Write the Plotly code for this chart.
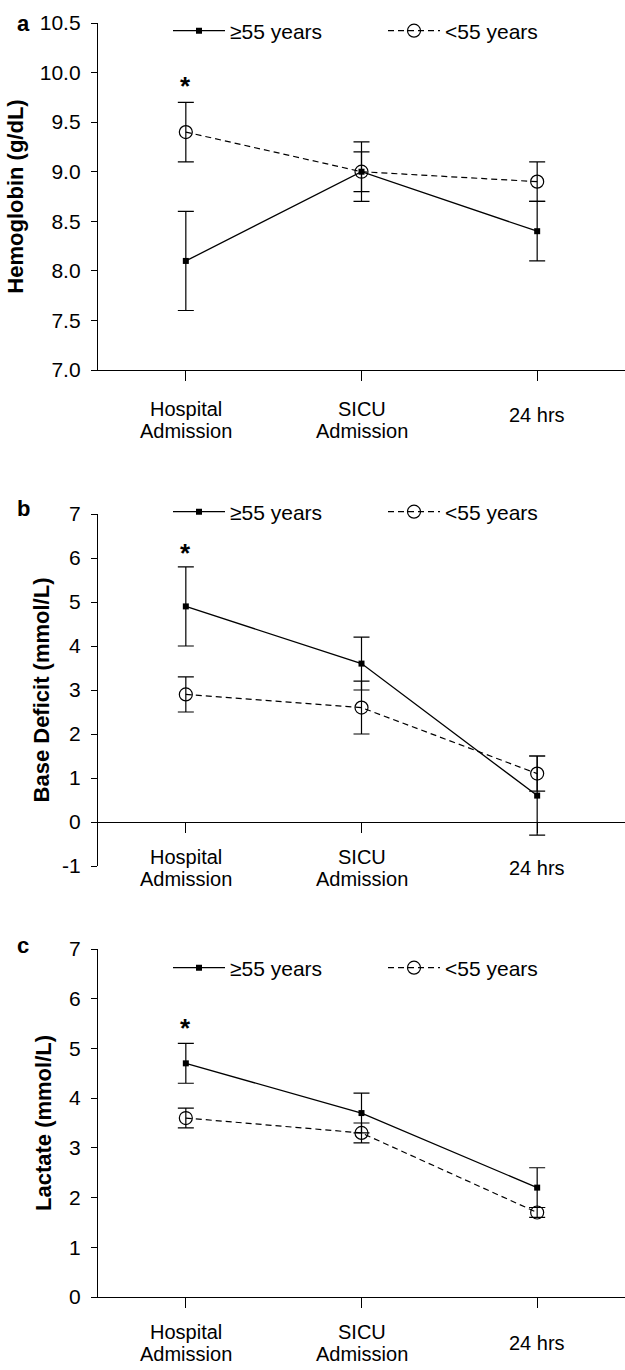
import plotly.graph_objects as go

# ---------------- data ----------------
categories = ["Hospital Admission", "SICU Admission", "24 hrs"]
cat_lines = [["Hospital", "Admission"], ["SICU", "Admission"], ["24 hrs"]]
series_names = ["\u226555 years", "<55 years"]

hgb_old = [8.1, 9.0, 8.4]
hgb_old_err = [0.5, 0.3, 0.3]
hgb_young = [9.4, 9.0, 8.9]
hgb_young_err = [0.3, 0.2, 0.2]

bd_old = [4.9, 3.6, 0.6]
bd_old_err = [0.9, 0.6, 0.9]
bd_young = [2.9, 2.6, 1.1]
bd_young_err = [0.4, 0.6, 0.4]

lac_old = [4.7, 3.7, 2.2]
lac_old_err = [0.4, 0.4, 0.4]
lac_young = [3.6, 3.3, 1.7]
lac_young_err = [0.2, 0.2, 0.1]

hgb_ticks = [7.0, 7.5, 8.0, 8.5, 9.0, 9.5, 10.0, 10.5]
hgb_tick_labels = ["7.0", "7.5", "8.0", "8.5", "9.0", "9.5", "10.0", "10.5"]
bd_ticks = [-1, 0, 1, 2, 3, 4, 5, 6, 7]
bd_tick_labels = ["-1", "0", "1", "2", "3", "4", "5", "6", "7"]
lac_ticks = [0, 1, 2, 3, 4, 5, 6, 7]
lac_tick_labels = ["0", "1", "2", "3", "4", "5", "6", "7"]

y_titles = ["Hemoglobin (g/dL)", "Base Deficit (mmol/L)", "Lactate (mmol/L)"]
panel_letters = ["a", "b", "c"]
star_y = [9.9, 6.2, 5.5]

# ---------------- layout geometry ----------------
W, H = 625, 1370
L, R, T, B = 98, 0, 23, 73
PH = H - T - B
PW = W - L - R


def py(px):
    return (H - B - px) / PH


def pxx(px):
    return (px - L) / PW


FONT = "Liberation Sans, Arial, sans-serif"

panels = [
    dict(old=hgb_old, olde=hgb_old_err, yng=hgb_young, ynge=hgb_young_err,
         yrange=[7.0, 10.5], tv=hgb_ticks, tt=hgb_tick_labels, dom=(370, 23),
         base=7.0, leg_y=31, letter_y=24, standoff=10, lab=(39, 61, 45)),
    dict(old=bd_old, olde=bd_old_err, yng=bd_young, ynge=bd_young_err,
         yrange=[-1, 7], tv=bd_ticks, tt=bd_tick_labels, dom=(866, 514),
         base=0, leg_y=512, letter_y=508, standoff=6, lab=(35, 57, 46)),
    dict(old=lac_old, olde=lac_old_err, yng=lac_young, ynge=lac_young_err,
         yrange=[0, 7], tv=lac_ticks, tt=lac_tick_labels, dom=(1297, 949),
         base=0, leg_y=968, letter_y=945, standoff=11, lab=(35, 57, 46)),
]

fig = go.Figure()
annotations = []

for i, p in enumerate(panels):
    n = "" if i == 0 else str(i + 1)
    xa, ya = "x" + n, "y" + n
    leg = "legend" + n
    fig.add_trace(go.Scatter(
        x=categories, y=p["old"], name=series_names[0], xaxis=xa, yaxis=ya,
        legend=leg, mode="lines+markers",
        line=dict(color="black", width=1.3),
        marker=dict(symbol="square", size=6, color="black"),
        error_y=dict(type="data", array=p["olde"], color="black",
                     thickness=1.2, width=8),
    ))
    fig.add_trace(go.Scatter(
        x=categories, y=p["yng"], name=series_names[1], xaxis=xa, yaxis=ya,
        legend=leg, mode="lines+markers",
        line=dict(color="black", width=1.2, dash="6px,4px"),
        marker=dict(symbol="circle-open", size=13, color="black",
                    line=dict(width=1.2, color="black")),
        error_y=dict(type="data", array=p["ynge"], color="black",
                     thickness=1.2, width=8),
    ))

    d0, d1 = py(p["dom"][0]), py(p["dom"][1])
    xaxis = dict(
        domain=[0, 1], type="category", range=[-0.5, 2.5],
        showline=True, linecolor="black", linewidth=1.3,
        ticks="outside", ticklen=10, tickwidth=1.3, tickcolor="black",
        showticklabels=False, showgrid=False, zeroline=False,
        fixedrange=True,
    )
    if p["yrange"][0] < 0:
        frac = (0 - p["yrange"][0]) / (p["yrange"][1] - p["yrange"][0])
        xaxis.update(anchor="free", position=d0 + frac * (d1 - d0))
    else:
        xaxis.update(anchor=ya)
    yaxis = dict(
        domain=[d0, d1], range=p["yrange"], tickmode="array",
        tickvals=p["tv"], ticktext=p["tt"], anchor=xa,
        showline=True, linecolor="black", linewidth=1.3,
        ticks="outside", ticklen=6, tickwidth=1.3, tickcolor="black",
        showgrid=False, zeroline=False, ticklabelstandoff=6,
        fixedrange=True,
        tickfont=dict(family=FONT, size=21, color="black"),
        title=dict(text="<b>%s</b>" % y_titles[i], standoff=p["standoff"],
                   font=dict(family=FONT, size=22, color="black")),
    )
    fig.update_layout(**{"xaxis" + n: xaxis, "yaxis" + n: yaxis})

    fig.update_layout(**{leg: dict(
        orientation="h", x=pxx(168), xanchor="left", y=py(p["leg_y"]),
        yanchor="middle", font=dict(family=FONT, size=21, color="black"),
        bgcolor="rgba(0,0,0,0)", itemwidth=52, entrywidth=148,
        entrywidthmode="pixels", traceorder="normal",
    )})

    # category labels
    for c, lines in zip(categories, cat_lines):
        if len(lines) == 2:
            offs = [p["lab"][0], p["lab"][1]]
        else:
            offs = [p["lab"][2]]
        for txt, off in zip(lines, offs):
            annotations.append(dict(
                x=c, y=p["base"], xref=xa, yref=ya, text=txt, showarrow=False,
                xanchor="center", yanchor="middle", yshift=-off,
                font=dict(family=FONT, size=20, color="black")))

    # asterisk
    annotations.append(dict(
        x=categories[0], y=star_y[i], xref=xa, yref=ya, text="<b>*</b>",
        showarrow=False, xanchor="center", yanchor="middle", yshift=-4,
        font=dict(family=FONT, size=26, color="black")))

    # panel letter
    annotations.append(dict(
        x=pxx(23), y=py(p["letter_y"]), xref="paper", yref="paper",
        text="<b>%s</b>" % panel_letters[i], showarrow=False,
        xanchor="center", yanchor="middle",
        font=dict(family=FONT, size=22, color="black")))

fig.update_layout(
    width=W, height=H,
    margin=dict(l=L, r=R, t=T, b=B, autoexpand=False),
    paper_bgcolor="white", plot_bgcolor="white",
    font=dict(family=FONT, color="black"),
    annotations=annotations,
    showlegend=True,
)

fig.write_html("out.html", config={"displayModeBar": False},
               post_script="document.body.style.margin='0';")
